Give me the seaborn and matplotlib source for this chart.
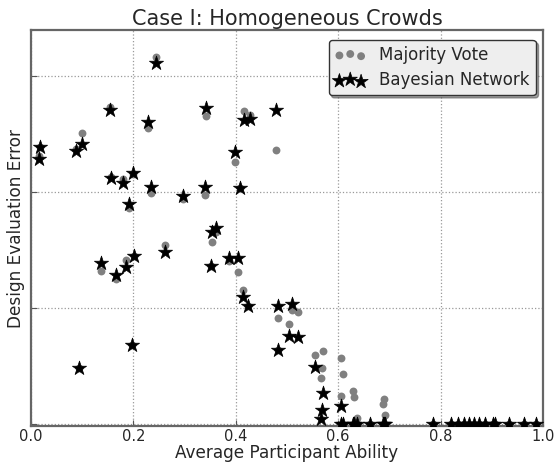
import matplotlib
matplotlib.use("Agg")
import matplotlib.pyplot as plt
import seaborn as sns
import pandas as pd

ability = [0.017, 0.015, 0.0885, 0.100, 0.094, 0.154, 0.157, 0.137, 0.166, 0.180,
           0.186, 0.192, 0.200, 0.201, 0.197, 0.229, 0.235, 0.244, 0.261, 0.297,
           0.341, 0.340, 0.353, 0.361, 0.352, 0.387, 0.405, 0.399, 0.408, 0.415,
           0.423, 0.416, 0.4275, 0.479, 0.483, 0.482, 0.510, 0.503, 0.522, 0.555,
           0.570, 0.569, 0.566, 0.606, 0.610, 0.606, 0.629, 0.631, 0.637, 0.662,
           0.689, 0.687, 0.691, 0.785, 0.820, 0.834, 0.845, 0.855, 0.866, 0.876,
           0.886, 0.903, 0.907, 0.934, 0.964, 0.986]
majority_vote = [2.39, 2.31, 2.37, 2.51, 0.487, 2.73, 2.13, 1.32, 1.254, 2.115,
                 1.415, 1.862, 2.16, 1.45, 0.68, 2.553, 1.99, 3.167, 1.542, 1.942,
                 2.657, 1.971, 1.568, 1.654, 1.366, 1.406, 1.308, 2.259, 2.035, 1.158,
                 1.017, 2.70, 2.663, 2.36, 0.911, 0.64, 0.983, 0.862, 0.963, 0.591,
                 0.628, 0.487, 0.398, 0.571, 0.435, 0.239, 0.282, 0.233, 0.05, 0.0,
                 0.219, 0.176, 0.075, 0.0, 0.0, 0.0, 0.0, 0.0, 0.0, 0.0,
                 0.0, 0.0, 0.0, 0.0, 0.0, 0.0]
bayesian_network = [2.39, 2.285, 2.356, 2.414, 0.487, 2.709, 2.121, 1.386, 1.282, 2.081,
                    1.357, 1.896, 2.161, 1.450, 0.68, 2.608, 2.04, 3.112, 1.481, 1.962,
                    2.726, 2.046, 1.654, 1.686, 1.366, 1.435, 1.435, 2.346, 2.035, 1.095,
                    1.017, 2.62, 2.634, 2.709, 1.017, 0.64, 1.032, 0.758, 0.752, 0.493,
                    0.271, 0.124, 0.046, 0.153, 0.0, 0.0, 0.0, 0.0, 0.0, 0.0,
                    0.0, 0.0, 0.0, 0.0, 0.0, 0.0, 0.0, 0.0, 0.0, 0.0,
                    0.0, 0.0, 0.0, 0.0, 0.0, 0.0]
x_ticks = [0.0, 0.2, 0.4, 0.6, 0.8, 1.0]
y_ticks = [0, 1, 2, 3]

df = pd.DataFrame({"ability": ability, "mv": majority_vote, "bn": bayesian_network})

sns.set_style("white")
plt.rcParams['font.family'] = ['DejaVu Sans']

fig = plt.figure(figsize=(5.54, 4.63), dpi=100)
ax = fig.add_axes([0.056, 0.080, 0.924, 0.855])

sns.scatterplot(data=df, x="ability", y="mv", ax=ax, color="#808080", marker="o",
                s=32, edgecolor="#808080", linewidth=0, label="Majority Vote", zorder=3)
sns.scatterplot(data=df, x="ability", y="bn", ax=ax, color="black", marker="*",
                s=115, edgecolor="black", linewidth=0.5, label="Bayesian Network", zorder=4)

ax.set_xlim(0, 1)
ax.set_ylim(-0.017, 3.397)
ax.set_xticks(x_ticks)
ax.set_xticklabels([f"{t:.1f}" for t in x_ticks])
ax.set_yticks(y_ticks)
ax.set_yticklabels([])
ax.grid(True, linestyle=":", color="#999999", linewidth=0.9)
ax.tick_params(direction="in", length=4, color="#555555", labelsize=10.5, pad=2,
               left=True, bottom=True)
for sp in ax.spines.values():
    sp.set_color("#666666")
    sp.set_linewidth(1.6)

ax.set_title("Case I: Homogeneous Crowds", fontsize=15, pad=4)
ax.set_xlabel("Average Participant Ability", fontsize=12.2, labelpad=0)
ax.set_ylabel("Design Evaluation Error", fontsize=12.2, labelpad=2)

leg = ax.legend(loc="upper right", scatterpoints=3, fontsize=12, fancybox=True, shadow=True,
                frameon=True, borderpad=0.35, handletextpad=0.8, labelspacing=0.45,
                handlelength=1.9, borderaxespad=0,
                bbox_to_anchor=(0.986, 0.975))
leg.get_frame().set_facecolor("#eeeeee")
leg.get_frame().set_edgecolor("#333333")
leg.get_frame().set_alpha(1.0)

fig.savefig("out.png", dpi=100)
